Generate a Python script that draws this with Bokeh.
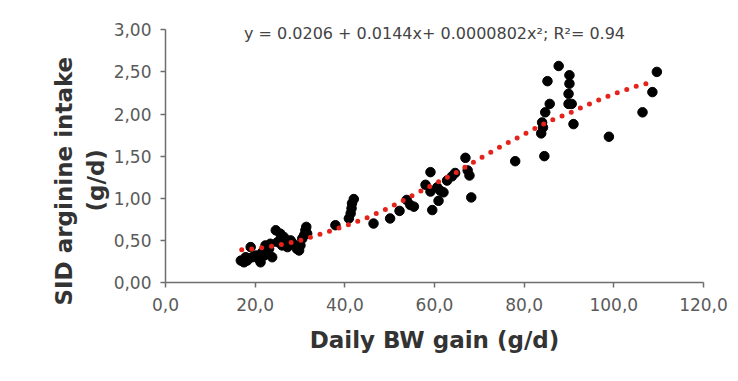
import numpy as np
from bokeh.plotting import figure
from bokeh.models import Range1d, FixedTicker, CustomJSTickFormatter, ColumnDataSource, Title
from bokeh.core.properties import value
from bokeh.embed import file_html
from bokeh.resources import INLINE

# Data (Daily BW gain g/d, SID arginine intake g/d)
gain = [16.8, 17.5, 18.2, 17.9, 19.0, 19.4, 20.2, 20.8, 21.2, 21.6, 22.0, 22.3, 22.7, 23.1, 23.4, 23.8,
        24.6, 25.0, 25.6, 26.0, 26.4, 26.8, 27.2, 27.9, 28.5, 29.3, 29.8, 30.1, 30.5, 30.9, 31.2, 31.4, 31.6,
        37.9, 40.9, 41.3, 41.5, 41.6, 42.0, 46.4, 50.1, 52.2, 53.8, 54.6, 55.4, 58.0, 59.1, 59.1, 59.5,
        60.6, 60.9, 61.3, 62.0, 62.8, 63.9, 64.6, 66.9, 67.4, 67.8, 68.2, 78.0, 83.8, 84.0, 84.2, 84.5,
        84.7, 85.2, 85.7, 87.7, 89.9, 89.9, 90.1, 90.1, 90.6, 91.0, 98.9, 106.4, 108.6, 109.6]
arginine = [0.26, 0.24, 0.26, 0.30, 0.42, 0.30, 0.32, 0.28, 0.24, 0.36, 0.32, 0.44, 0.34, 0.40, 0.46, 0.30,
            0.62, 0.48, 0.58, 0.44, 0.54, 0.50, 0.42, 0.50, 0.46, 0.40, 0.38, 0.44, 0.52, 0.56, 0.62, 0.66, 0.58,
            0.68, 0.76, 0.82, 0.88, 0.94, 0.99, 0.70, 0.76, 0.85, 0.98, 0.92, 0.90, 1.16, 1.31, 1.08, 0.86,
            1.13, 0.97, 1.09, 1.07, 1.21, 1.26, 1.30, 1.48, 1.33, 1.27, 1.01, 1.44, 1.77, 1.90, 1.84, 1.50,
            2.02, 2.39, 2.12, 2.57, 2.24, 2.12, 2.46, 2.36, 2.12, 1.88, 1.73, 2.02, 2.26, 2.50]

# Trend line as drawn in the reference
trend_x = [17, 20, 25, 30, 35, 40, 45, 50, 55, 60, 65, 70, 75, 80, 85, 90, 95, 100, 105, 108.5]
trend_y = [0.39, 0.40, 0.44, 0.50, 0.58, 0.67, 0.77, 0.89, 1.03, 1.17, 1.31, 1.47, 1.62, 1.76, 1.90,
           2.01, 2.13, 2.24, 2.33, 2.38]

x_ticks = [0, 20, 40, 60, 80, 100, 120]
y_ticks = [0, 0.5, 1.0, 1.5, 2.0, 2.5, 3.0]
equation = "y = 0.0206 + 0.0144x+ 0.0000802x\u00b2; R\u00b2= 0.94"
x_title = "Daily BW gain (g/d)"
y_title_1 = "SID arginine intake"
y_title_2 = "(g/d)"

FONT = "DejaVu Sans"
GREY = "#5a5a5a"
TITLE_COLOR = "#333333"

p = figure(width=738, height=381, output_backend="svg", toolbar_location=None,
           x_range=Range1d(0, 120), y_range=Range1d(0, 3.3),
           min_border_left=165, min_border_right=35, min_border_top=4, min_border_bottom=99)
p.outline_line_color = None
p.grid.grid_line_color = None
p.background_fill_color = "white"
p.border_fill_color = "white"

for ax in (p.xaxis[0], p.yaxis[0]):
    ax.axis_line_color = "#6e6e6e"
    ax.axis_line_width = 1.5
    ax.major_tick_line_color = "#6e6e6e"
    ax.major_tick_line_width = 1.5
    ax.major_tick_out = 5
    ax.major_tick_in = 0
    ax.minor_tick_line_color = None
    ax.major_label_text_font = FONT
    ax.major_label_text_font_size = "17px"
    ax.major_label_text_color = GREY
    ax.axis_label_text_font = FONT
    ax.axis_label_text_font_size = "23px"
    ax.axis_label_text_font_style = "bold"
    ax.axis_label_text_color = TITLE_COLOR

p.yaxis.bounds = (0, 3.0)
p.xaxis.ticker = FixedTicker(ticks=x_ticks)
p.yaxis.ticker = FixedTicker(ticks=y_ticks)
p.xaxis.formatter = CustomJSTickFormatter(code="return tick.toFixed(1).replace('.', ',');")
p.yaxis.formatter = CustomJSTickFormatter(code="return tick.toFixed(2).replace('.', ',');")
p.xaxis.major_label_standoff = 10
p.yaxis.major_label_standoff = 9
p.xaxis.axis_label = x_title
p.xaxis.axis_label_standoff = 13

# two-line y title as two side titles
for txt, off in ((y_title_2, 71), (y_title_1, -23)):
    p.add_layout(Title(text=txt, align="left", offset=off, standoff=4,
                       text_font=FONT, text_font_size="23px", text_font_style="bold",
                       text_color=TITLE_COLOR), "left")

src = ColumnDataSource(dict(x=gain, y=arginine))
p.scatter("x", "y", source=src, size=9.5, color="black")

p.line(trend_x, trend_y, line_color="#e5231b", line_width=5, line_dash="0 10", line_cap="round")

p.text(x=[60], y=[2.96], text=[equation], text_font=value(FONT), text_font_size="16px",
       text_color="#444444", text_align="center", text_baseline="middle")

open("out.html", "w").write(file_html(p, INLINE))
